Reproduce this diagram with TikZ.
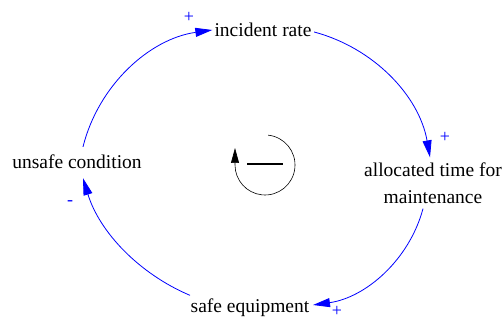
\documentclass[tikz,border=0pt]{standalone}
\usepackage{fontspec}
\setmainfont{Liberation Serif}
\usetikzlibrary{arrows.meta}

\begin{document}
\begin{tikzpicture}
[
	x=1pt, y=1pt,
	var/.style={inner sep=0pt, font=\fontsize{19.5}{27}\selectfont, align=center},
	link/.style={blue, line width=0.8pt, -{Triangle[length=17pt,width=9pt]}},
	polarity/.style={blue, inner sep=0pt, font=\fontsize{18}{18}\selectfont}
]
	\useasboundingbox (0,0) rectangle (502,320);

	% variables
	\node[var] (incident) at (263,290) {incident rate};
	\node[var] (unsafe) at (77,158) {unsafe condition};
	\node[var] (alloc) at (433,137) {allocated time for\\maintenance};
	\node[var] (safe) at (250,12) {safe equipment};

	% causal links
	\draw[link] ([shift={(6pt,8pt)}]unsafe.north) to[out=76,in=188,looseness=0.93] ([xshift=-2pt]incident.west);
	\draw[link] ([shift={(2.5pt,-2pt)}]incident.east) to[out=-15,in=100,looseness=0.93] ([shift={(-3pt,5pt)}]alloc.north);
	\draw[link] ([shift={(-10pt,-5pt)}]alloc.south) to[out=-105,in=8,looseness=0.93] ([shift={(3.5pt,3pt)}]safe.east);
	\draw[link] ([shift={(-0.5pt,3.5pt)}]safe.north west) to[out=157,in=-73,looseness=0.9] ([shift={(6pt,-9pt)}]unsafe.south);

	% polarities
	\node[polarity] (p1) at (189,303) {+};
	\node[polarity] (p2) at (445,183) {+};
	\node[polarity] (p3) at (337,9) {+};
	\node[polarity] (p4) at (70,117) {-};

	% loop sign
	\coordinate (loop) at (265,155);
	\draw[line width=0.6pt,-{Triangle[length=15pt,width=8pt]}]
	  (loop) ++(84:30) arc[start angle=84,end angle=-180,radius=30] -- ++(0,17);
	\draw[line width=1.6pt] ([xshift=-18pt,yshift=1pt]loop) -- ([xshift=18pt,yshift=1pt]loop);

\end{tikzpicture}
\end{document}
